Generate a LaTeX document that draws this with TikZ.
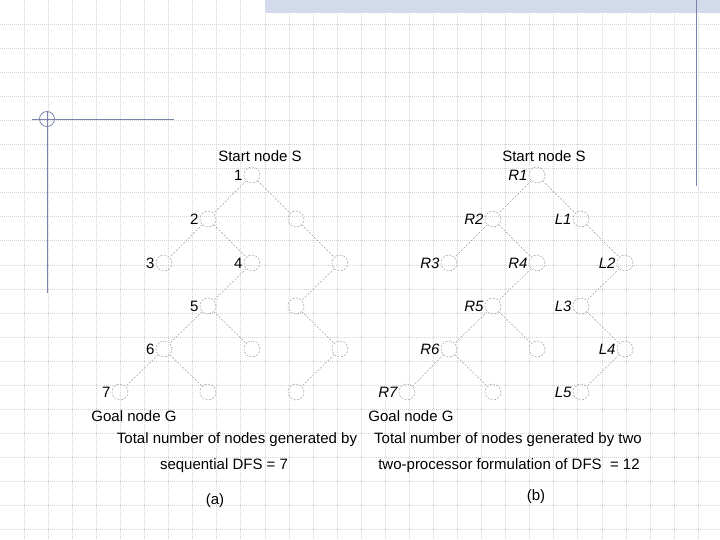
\documentclass[tikz,border=0pt]{standalone}
\usepackage{fontspec}
\setmainfont{Liberation Sans}
\definecolor{gridc}{RGB}{208,210,218}
\definecolor{hatchc}{RGB}{210,218,236}
\definecolor{decoc}{RGB}{120,130,170}
\definecolor{treec}{RGB}{160,160,160}
\begin{document}
\begin{tikzpicture}[x=1pt,y=-1pt,
  tn/.style={circle,draw=treec,dash pattern=on 2pt off 1.5pt,minimum size=16pt,inner sep=0pt,line width=0.5pt},
  te/.style={draw=treec,dash pattern=on 2pt off 1.5pt,line width=0.5pt},
  lbl/.style={font=\fontsize{15}{18}\selectfont,inner sep=1pt,label distance=0pt},
  lbli/.style={font=\fontsize{15}{18}\selectfont\itshape,inner sep=1pt,label distance=0pt},
  txt/.style={font=\fontsize{15}{18}\selectfont,inner sep=0pt},
  bggrid/.style={draw=gridc,line width=0.5pt,dash pattern=on 1pt off 1pt},
  deco/.style={draw=decoc,line width=0.8pt}]
\useasboundingbox (0,0) rectangle (720,540);
\fill[white] (0,0) rectangle (720,540);
% background grid
\foreach \i in {1,...,29} \draw[bggrid] (\i*24.07,0) -- (\i*24.07,540);
\foreach \j in {1,...,22} \draw[bggrid] (0,\j*24.07) -- (720,\j*24.07);
% decorations
\fill[hatchc] (265,0) rectangle (720,13);
\draw[deco] (696,0) -- (696,186);
\draw[deco] (32,119) -- (174,119);
\draw[deco] (47,111) -- (47,293);
\draw[deco] (47,119) circle (7.5);
% ---------- tree (a) ----------
\node[txt] (sa) at (260,156) {Start node S};
\node[tn,label={[lbl]left:1}] (a1) at (252,175) {};
\node[tn,label={[lbl]left:2}] (a2) at (208,219) {};
\node[tn] (aA) at (296,219) {};
\node[tn,label={[lbl]left:3}] (a3) at (164,263) {};
\node[tn,label={[lbl]left:4}] (a4) at (252,263) {};
\node[tn] (aB) at (340,263) {};
\node[tn,label={[lbl]left:5}] (a5) at (208,306) {};
\node[tn] (aC) at (296,306) {};
\node[tn,label={[lbl]left:6}] (a6) at (164,349) {};
\node[tn] (aD) at (252,349) {};
\node[tn] (aE) at (340,349) {};
\node[tn,label={[lbl]left:7}] (a7) at (120,392) {};
\node[tn] (aF) at (208,392) {};
\node[tn] (aG) at (296,392) {};
\node[txt] (ga) at (134,416) {Goal node G};
\draw[te] (a1) -- (a2);
\draw[te] (a1) -- (aA);
\draw[te] (a2) -- (a3);
\draw[te] (a2) -- (a4);
\draw[te] (aA) -- (aB);
\draw[te] (a4) -- (a5);
\draw[te] (aB) -- (aC);
\draw[te] (a5) -- (a6);
\draw[te] (a5) -- (aD);
\draw[te] (aC) -- (aE);
\draw[te] (a6) -- (a7);
\draw[te] (a6) -- (aF);
\draw[te] (aE) -- (aG);
% ---------- tree (b) ----------
\node[txt] (sb) at (544,156) {Start node S};
\node[tn,label={[lbli]left:R1}] (r1) at (537,175) {};
\node[tn,label={[lbli]left:R2}] (r2) at (493,219) {};
\node[tn,label={[lbli]left:L1}] (l1) at (581,219) {};
\node[tn,label={[lbli]left:R3}] (r3) at (449,263) {};
\node[tn,label={[lbli]left:R4}] (r4) at (537,263) {};
\node[tn,label={[lbli]left:L2}] (l2) at (625,263) {};
\node[tn,label={[lbli]left:R5}] (r5) at (493,306) {};
\node[tn,label={[lbli]left:L3}] (l3) at (581,306) {};
\node[tn,label={[lbli]left:R6}] (r6) at (449,349) {};
\node[tn] (bD) at (537,349) {};
\node[tn,label={[lbli]left:L4}] (l4) at (625,349) {};
\node[tn,label={[lbli]left:R7}] (r7) at (407,392) {};
\node[tn] (bF) at (493,392) {};
\node[tn,label={[lbli]left:L5}] (l5) at (581,392) {};
\node[txt] (gb) at (411,416) {Goal node G};
\draw[te] (r1) -- (r2);
\draw[te] (r1) -- (l1);
\draw[te] (r2) -- (r3);
\draw[te] (r2) -- (r4);
\draw[te] (l1) -- (l2);
\draw[te] (r4) -- (r5);
\draw[te] (l2) -- (l3);
\draw[te] (r5) -- (r6);
\draw[te] (r5) -- (bD);
\draw[te] (l3) -- (l4);
\draw[te] (r6) -- (r7);
\draw[te] (r6) -- (bF);
\draw[te] (l4) -- (l5);
% ---------- captions ----------
\node[txt] (ca1) at (237,440) {Total number of nodes generated by};
\node[txt] (ca2) at (224,466) {sequential DFS = 7};
\node[txt] (capa) at (215,501) {(a)};
\node[txt] (cb1) at (508,440) {Total number of nodes generated by two};
\node[txt] (cb2) at (509,466) {two-processor formulation of DFS\ \ = 12};
\node[txt] (capb) at (536,497) {(b)};
\end{tikzpicture}
\end{document}
